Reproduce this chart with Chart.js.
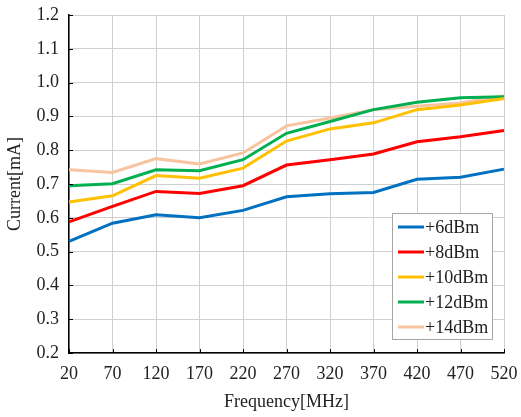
<!DOCTYPE html>
<html>
<head>
<meta charset="utf-8">
<script src="https://cdn.jsdelivr.net/npm/chart.js@4"></script>
<style>
  html, body { margin: 0; padding: 0; background: #fff; }
  #wrap { width: 521px; height: 417px; }
</style>
</head>
<body>
<div id="wrap"><canvas id="myChart" width="521" height="417"></canvas></div>
<script>
const labels = ['20','70','120','170','220','270','320','370','420','470','520'];

const p6dBm  = [0.530,0.584,0.609,0.600,0.622,0.662,0.671,0.675,0.714,0.720,0.744];
const p8dBm  = [0.588,0.634,0.678,0.672,0.695,0.756,0.772,0.789,0.825,0.840,0.858];
const p10dBm = [0.647,0.665,0.725,0.717,0.747,0.827,0.863,0.881,0.920,0.934,0.953];
const p12dBm = [0.695,0.701,0.742,0.739,0.772,0.850,0.885,0.920,0.942,0.955,0.958];
const p14dBm = [0.742,0.734,0.775,0.759,0.792,0.872,0.895,0.920,0.930,0.940,0.961];

const seriesNames = ['+6dBm','+8dBm','+10dBm','+12dBm','+14dBm'];
const seriesColors = ['#0070C0','#FF0000','#FFC000','#00B050','#F8C4A0'];
const seriesData = [p6dBm, p8dBm, p10dBm, p12dBm, p14dBm];

const font = { family: '"Liberation Serif", "Times New Roman", serif', size: 18 };

// legend drawn inside the plot, bottom right
const boxLegend = {
  id: 'boxLegend',
  afterDraw(chart) {
    const ctx = chart.ctx;
    const a = chart.chartArea;
    const x = a.right - 112, y = a.bottom - 140, w = 100, h = 126;
    ctx.save();
    ctx.fillStyle = '#fff';
    ctx.fillRect(x, y, w, h);
    ctx.strokeStyle = '#a6a6a6';
    ctx.lineWidth = 1;
    ctx.strokeRect(x + 0.5, y + 0.5, w, h);
    ctx.font = font.size + 'px ' + font.family;
    ctx.textBaseline = 'middle';
    chart.data.datasets.forEach((ds, i) => {
      const cy = y + 14 + i * 25;
      ctx.strokeStyle = ds.borderColor;
      ctx.lineWidth = 3;
      ctx.beginPath();
      ctx.moveTo(x + 6, cy);
      ctx.lineTo(x + 32, cy);
      ctx.stroke();
      ctx.fillStyle = '#222';
      ctx.fillText(ds.label, x + 33, cy + 1);
    });
    ctx.restore();
  }
};

// short black tick marks pointing into the plot
const innerTicks = {
  id: 'innerTicks',
  afterDatasetsDraw(chart) {
    const ctx = chart.ctx;
    const a = chart.chartArea;
    const xs = chart.scales.x, ys = chart.scales.y;
    ctx.save();
    ctx.strokeStyle = '#000';
    ctx.lineWidth = 1;
    ctx.beginPath();
    ys.ticks.forEach((t, i) => {
      const py = Math.round(ys.getPixelForTick(i)) + 0.5;
      ctx.moveTo(a.left, py);
      ctx.lineTo(a.left + 4, py);
    });
    for (let i = 0; i < labels.length; i++) {
      const px = Math.round(xs.getPixelForTick(i)) + 0.5;
      ctx.moveTo(px, a.bottom);
      ctx.lineTo(px, a.bottom - 4);
    }
    ctx.stroke();
    ctx.restore();
  }
};

const data = {
  labels: labels,
  datasets: seriesNames.map((name, i) => ({
    label: name,
    data: seriesData[i],
    borderColor: seriesColors[i],
    backgroundColor: seriesColors[i],
    borderWidth: 3,
    pointRadius: 0,
    tension: 0,
    fill: false
  }))
};

const config = {
  type: 'line',
  data,
  options: {
    responsive: false,
    animation: false,
    layout: { padding: { top: 15, right: 17, left: 0, bottom: 0 } },
    plugins: {
      legend: { display: false },
      tooltip: { enabled: false }
    },
    scales: {
      x: {
        offset: false,
        grid: { color: '#d0d0d0', drawTicks: false },
        border: { color: '#000', width: 1.5 },
        ticks: { color: '#222', font, padding: 10, maxRotation: 0 },
        title: { display: true, text: 'Frequency[MHz]', color: '#222', font, padding: { top: 2 } },
        afterFit(scale) {
          scale.height = 64;
          scale.paddingLeft = 0;
          scale.paddingRight = 0;
        }
      },
      y: {
        min: 0.2,
        max: 1.2,
        grid: { color: '#d0d0d0', drawTicks: false },
        border: { color: '#000', width: 1.5 },
        ticks: {
          stepSize: 0.1,
          color: '#222',
          font,
          padding: 10,
          callback: v => v.toFixed(1)
        },
        title: { display: true, text: 'Current[mA]', color: '#222', font, padding: { bottom: 0 } },
        afterFit(scale) {
          scale.width = 69;
          scale.paddingTop = 0;
          scale.paddingBottom = 0;
        }
      }
    }
  },
  plugins: [innerTicks, boxLegend]
};

const myChart = new Chart(
  document.getElementById('myChart'),
  config
);
</script>
</body>
</html>
